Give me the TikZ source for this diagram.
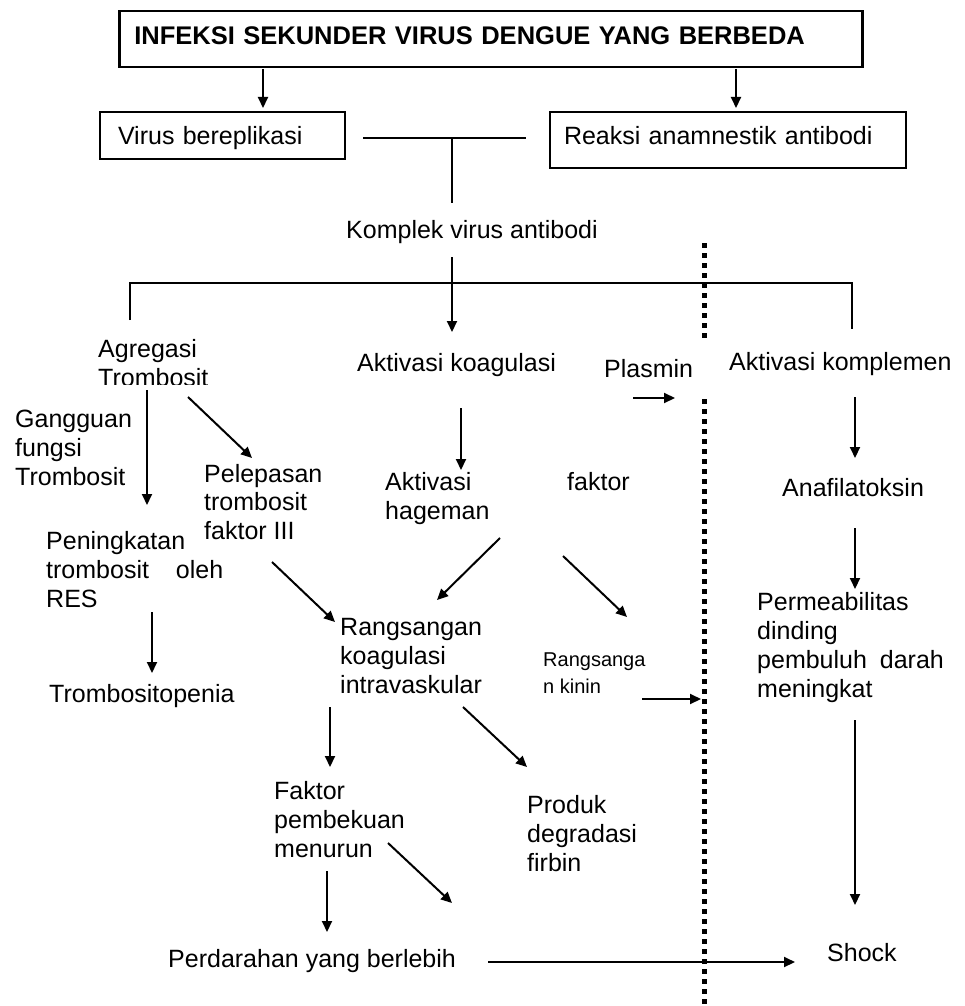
\documentclass[tikz,border=0pt]{standalone}
\usepackage{fontspec}
\setmainfont{Liberation Sans}
\usetikzlibrary{arrows.meta}
\newcommand{\st}{\rule{0pt}{19pt}}
\newcommand{\sts}{\rule{0pt}{15pt}}
\begin{document}
\begin{tikzpicture}[x=1pt,y=-1pt,
  txt/.style={anchor=north west, inner sep=0pt, align=left, font=\fontsize{25pt}{29pt}\selectfont},
  smalltxt/.style={anchor=north west, inner sep=0pt, align=left, font=\fontsize{20pt}{27pt}\selectfont},
  arr/.style={line width=2pt, -{Triangle[length=11pt,width=10pt]}},
  ln/.style={line width=2pt},
  dots/.style={line width=5pt, dash pattern=on 5pt off 5pt},
  boxed/.style={draw, line width=2pt, anchor=north west, inner ysep=0pt, align=left, font=\fontsize{25pt}{29pt}\selectfont, text height=18pt}]
\useasboundingbox (0,0) rectangle (965,1006);

% boxes
\node[boxed, line width=2.5pt, font=\bfseries\fontsize{25.5pt}{29pt}\selectfont, minimum height=56pt, inner xsep=15pt, text width=713pt, text depth=8pt] (title) at (118,10) {INFEKSI SEKUNDER VIRUS DENGUE YANG BERBEDA};
\node[boxed, minimum height=47pt, inner xsep=18pt, text width=209pt, text depth=1pt] (virus) at (99,111) {Virus bereplikasi};
\node[boxed, minimum height=56pt, inner xsep=14pt, text width=328pt, text depth=10pt] (reaksi) at (549,111) {Reaksi anamnestik antibodi};

% text nodes
\node[txt] (komplek) at (346,219) {\st Komplek virus antibodi};
\begin{scope}
  \clip (90,330) rectangle (300,384);
  \node[txt] (agregasi) at (98,338) {\st Agregasi\\Trombosit};
\end{scope}
\node[txt] (akoag) at (357,352) {\st Aktivasi koagulasi};
\node[txt] (plasmin) at (604,358) {\st Plasmin};
\node[txt] (akomp) at (729,351) {\st Aktivasi komplemen};
\node[txt] (gangguan) at (15,408) {\st Gangguan\\fungsi\\Trombosit};
\node[txt, font=\fontsize{25pt}{28.5pt}\selectfont] (pelepasan) at (204,463) {\st Pelepasan\\trombosit\\faktor III};
\node[txt] (hageman) at (385,471) {\st Aktivasi\\hageman};
\node[txt] (faktorh) at (567,471) {\st faktor};
\node[txt] (anafil) at (782,477) {\st Anafilatoksin};
\node[txt] (peningkatan) at (46,530) {\st Peningkatan\\trombosit\hspace{20pt} oleh\\RES};
\node[txt] (trombositopenia) at (49,683) {\st Trombositopenia};
\node[txt] (rangsangan) at (340,616) {\st Rangsangan\\koagulasi\\intravaskular};
\node[smalltxt] (kinin) at (543,651) {\sts Rangsanga\\n kinin};
\node[txt] (perm) at (757,591) {\st Permeabilitas\\dinding\\pembuluh\hspace{6pt} darah\\meningkat};
\node[txt] (faktorp) at (274,780) {\st Faktor\\pembekuan\\menurun};
\node[txt] (produk) at (527,794) {\st Produk\\degradasi\\firbin};
\node[txt] (perdarahan) at (168,948) {\st Perdarahan yang berlebih};
\node[txt] (shock) at (827,942) {\st Shock};

% connector end points
\coordinate (t1) at (263,69);  \coordinate (v1) at (263,108);
\coordinate (t2) at (736,69);  \coordinate (r1) at (736,108);
\coordinate (jl) at (363,138); \coordinate (jr) at (526,138);
\coordinate (jm) at (452,138); \coordinate (jb) at (452,203);
\coordinate (k1) at (452,257); \coordinate (k2) at (452,332);
\coordinate (bl) at (130,320); \coordinate (bl2) at (130,283);
\coordinate (br2) at (852,283); \coordinate (br) at (852,329);
\coordinate (g1) at (147,390); \coordinate (g2) at (147,505);
\coordinate (g3) at (188,397); \coordinate (g4) at (252,458);
\coordinate (c1) at (461,408); \coordinate (c2) at (461,470);
\coordinate (p1) at (633,398); \coordinate (p2) at (675,398);
\coordinate (m1) at (855,397); \coordinate (m2) at (855,458);
\coordinate (h1) at (500,538); \coordinate (h2) at (437,600);
\coordinate (h3) at (563,556); \coordinate (h4) at (627,617);
\coordinate (l1) at (272,562); \coordinate (l2) at (335,622);
\coordinate (n1) at (855,528); \coordinate (n2) at (855,589);
\coordinate (e1) at (152,612); \coordinate (e2) at (152,673);
\coordinate (q1) at (642,699); \coordinate (q2) at (701,699);
\coordinate (s1) at (330,707); \coordinate (s2) at (330,767);
\coordinate (s3) at (463,707); \coordinate (s4) at (527,767);
\coordinate (w1) at (855,720); \coordinate (w2) at (855,905);
\coordinate (f1) at (388,843); \coordinate (f2) at (452,903);
\coordinate (f3) at (327,871); \coordinate (f4) at (327,932);
\coordinate (d1) at (488,962); \coordinate (d2) at (795,962);
\coordinate (z1) at (704,243); \coordinate (z2) at (704,338);
\coordinate (z3) at (704,399); \coordinate (z4) at (704,1006);

% dotted divider
\draw[dots] (z1) -- (z2);
\draw[dots] (z3) -- (z4);

% connectors
\draw[arr] (t1) -- (v1);
\draw[arr] (t2) -- (r1);
\draw[ln] (jl) -- (jr);
\draw[ln] (jm) -- (jb);
\draw[ln] (bl) -- (bl2) -- (br2) -- (br);
\draw[arr] (k1) -- (k2);
\draw[arr] (g1) -- (g2);
\draw[arr] (g3) -- (g4);
\draw[arr] (c1) -- (c2);
\draw[arr] (p1) -- (p2);
\draw[arr] (m1) -- (m2);
\draw[arr] (h1) -- (h2);
\draw[arr] (h3) -- (h4);
\draw[arr] (l1) -- (l2);
\draw[arr] (n1) -- (n2);
\draw[arr] (e1) -- (e2);
\draw[arr] (q1) -- (q2);
\draw[arr] (s1) -- (s2);
\draw[arr] (s3) -- (s4);
\draw[arr] (w1) -- (w2);
\draw[arr] (f1) -- (f2);
\draw[arr] (f3) -- (f4);
\draw[arr] (d1) -- (d2);
\end{tikzpicture}
\end{document}
